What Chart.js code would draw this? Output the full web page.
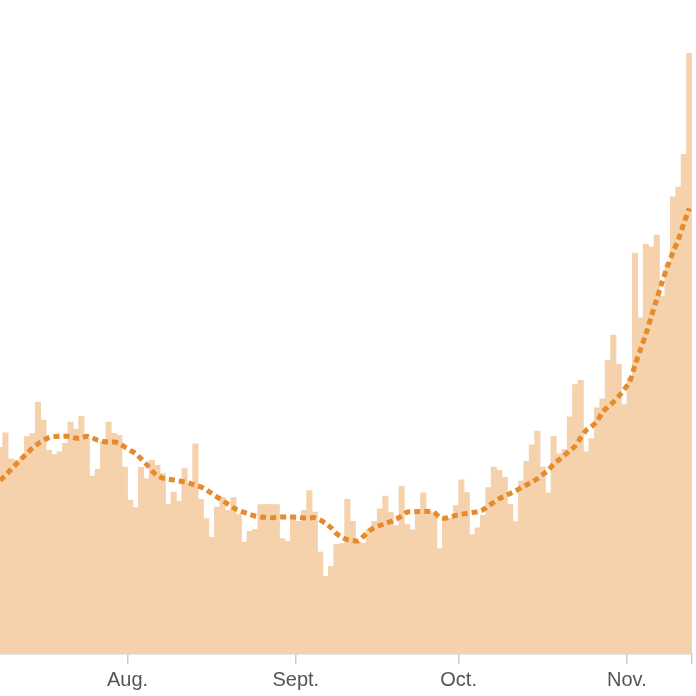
<!DOCTYPE html>
<html>
<head>
<meta charset="utf-8">
<script src="https://cdn.jsdelivr.net/npm/chart.js@4.4.1/dist/chart.umd.min.js"></script>
<style>
  html, body { margin: 0; padding: 0; background: #ffffff; }
  #wrap { width: 696px; height: 696px; }
</style>
</head>
<body>
<div id="wrap"><canvas id="c" width="696" height="696"></canvas></div>
<script>
// ---- Data (daily new cases and 7-day average, Jul 8 – Nov 12) ----
const startDate = '2020-07-08';

const dailyCases = [
  63200, 67600, 59700, 59200, 59800, 66600, 67400, 77000, 71500, 62300,
  61000, 61800, 64400, 70900, 68700, 72700, 65900, 54400, 56500, 65000,
  70900, 67500, 66900, 57200, 47100, 44800, 57100, 53600, 59200, 57700,
  55200, 45700, 49500, 46700, 56700, 52200, 64300, 47300, 41400, 35700,
  44900, 47900, 43900, 47800, 42700, 34200, 37500, 38100, 45700, 45700,
  45800, 45700, 35300, 34500, 42100, 40600, 43900, 50000, 43400, 31200,
  23700, 26800, 33500, 33800, 47300, 40600, 34200, 33900, 38100, 40600,
  44400, 48300, 43400, 39300, 51300, 39600, 38000, 43400, 49300, 43600,
  43400, 32200, 40900, 41500, 45400, 53300, 49400, 36500, 38600, 42400,
  50900, 57200, 56200, 54000, 45800, 40500, 52900, 58900, 64000, 68200,
  57200, 49300, 66600, 61200, 62500, 72500, 82400, 83700, 61800, 65900,
  75300, 78000, 89800, 97500, 88600, 76300, 84300, 122600, 102800, 125300,
  124500, 128100, 109400, 119400, 139800, 142800, 152800, 183700
];

const avgCases = [
  53100, 54600, 56400, 58100, 59800, 61400, 63000, 64300, 65300, 66200,
  66500, 66600, 66600, 66500, 66000, 66100, 66600, 66100, 65400, 65000,
  64800, 64800, 64400, 63300, 62300, 61300, 59700, 58000, 56000, 54500,
  53800, 53500, 53200, 52900, 52600, 52200, 51600, 51100, 50200, 49100,
  48000, 47000, 45800, 44700, 43900, 43300, 42700, 42200, 41900, 41800,
  41700, 41800, 41900, 41900, 41900, 41800, 41600, 41600, 41700, 41000,
  39900, 38600, 36800, 35700, 35000, 34700, 34600, 36000, 37600, 38700,
  39300, 39900, 40500, 41300, 42200, 43400, 43500, 43600, 43600, 43600,
  43300, 41800, 41500, 41900, 42400, 42700, 43000, 43300, 43500, 44100,
  45300, 46400, 47500, 48300, 49100, 49900, 50800, 51700, 52600, 53600,
  54900, 56200, 58000, 59400, 60800, 62200, 63600, 66200, 68400, 69600,
  71100, 73900, 75600, 77000, 78800, 80900, 83200, 88300, 93100, 97800,
  103200, 108500, 113800, 118600, 122900, 126800, 131700, 136300
];

// x-axis ticks: day index (from startDate) where each month begins, plus the end of the series
const monthTickDays = [24, 55, 85, 116];
const monthTickLabels = ['Aug.', 'Sept.', 'Oct.', 'Nov.'];
const endTickDay = 128;

// ---- Build chart ----
const dayMs = 86400000;
const t0 = Date.parse(startDate + 'T00:00:00Z');
const categories = dailyCases.map((_, i) => new Date(t0 + i * dayMs).toISOString().slice(0, 10));

const barPoints = dailyCases.map((v, i) => ({ x: i + 0.5, y: v, date: categories[i] }));
const avgPoints = avgCases.map((v, i) => ({ x: i + 0.5, y: v, date: categories[i] }));

const FONT = '"Liberation Sans", Arial, Helvetica, sans-serif';

new Chart(document.getElementById('c').getContext('2d'), {
  type: 'bar',
  data: {
    datasets: [
      {
        type: 'line',
        label: '7-day average',
        data: avgPoints,
        borderColor: '#e68a2c',
        borderWidth: 5,
        borderDash: [6, 4],
        borderCapStyle: 'butt',
        pointRadius: 0,
        tension: 0.3,
        fill: false,
        order: 0
      },
      {
        type: 'bar',
        label: 'New cases',
        data: barPoints,
        backgroundColor: '#f5d2ab',
        borderWidth: 0,
        barPercentage: 1,
        categoryPercentage: 1,
        order: 1
      }
    ]
  },
  options: {
    responsive: false,
    animation: false,
    events: [],
    layout: { padding: { left: 0, right: -2, top: 0, bottom: 0 } },
    plugins: { legend: { display: false }, tooltip: { enabled: false } },
    scales: {
      x: {
        type: 'linear',
        min: 0.5,
        max: endTickDay,
        offset: false,
        afterBuildTicks: (scale) => {
          scale.ticks = monthTickDays.concat([endTickDay]).map(v => ({ value: v }));
        },
        ticks: {
          autoSkip: false,
          maxRotation: 0,
          padding: 4,
          color: '#555555',
          font: { size: 20, family: FONT, lineHeight: 1.2 },
          callback: (v) => {
            const k = monthTickDays.indexOf(v);
            return k >= 0 ? monthTickLabels[k] : '';
          }
        },
        grid: {
          offset: false,
          drawOnChartArea: false,
          drawTicks: true,
          tickLength: 10,
          color: '#cccccc',
          lineWidth: 1.5
        },
        border: { display: true, color: '#cccccc', width: 1.5 }
      },
      y: {
        display: false,
        min: 0,
        max: 200000
      }
    }
  }
});
</script>
</body>
</html>
